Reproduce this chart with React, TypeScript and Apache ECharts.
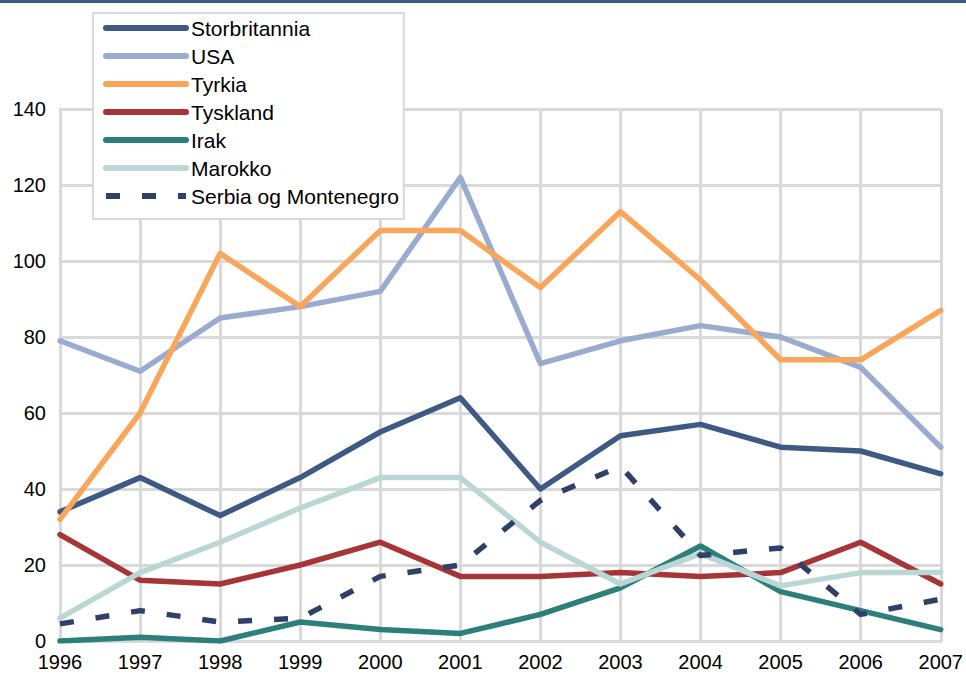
import React, { useEffect, useRef } from "react";
import * as echarts from "echarts";

const years = ["1996", "1997", "1998", "1999", "2000", "2001", "2002", "2003", "2004", "2005", "2006", "2007"];
const storbritannia = [34, 43, 33, 43, 55, 64, 40, 54, 57, 51, 50, 44];
const usa = [79, 71, 85, 88, 92, 122, 73, 79, 83, 80, 72, 51];
const tyrkia = [32, 60, 102, 88, 108, 108, 93, 113, 95, 74, 74, 87];
const tyskland = [28, 16, 15, 20, 26, 17, 17, 18, 17, 18, 26, 15];
const irak = [0, 1, 0, 5, 3, 2, 7, 14, 25, 13, 8, 3];
const marokko = [6, 18, 26, 35, 43, 43, 26, 15, 23, 14.5, 18, 18];
const serbia = [4.5, 8, 5, 6, 17, 20, 37, 46, 22.5, 24.5, 7, 11];

const seriesNames = ["Storbritannia", "USA", "Tyrkia", "Tyskland", "Irak", "Marokko", "Serbia og Montenegro"];
const seriesData = [storbritannia, usa, tyrkia, tyskland, irak, marokko, serbia];
const colors = ["#3e5a84", "#9aabd0", "#f9a65a", "#a73437", "#2c8079", "#bad7d6", "#2f4168"];

export default function App() {
  const ref = useRef<HTMLDivElement>(null);
  useEffect(() => {
    document.body.style.margin = "0";
    const chart = echarts.init(ref.current!, null, { renderer: "svg" });
    const gridColor = "#d9d9d9";
    const font = "'Liberation Sans', Arial, sans-serif";
    chart.setOption({
      animation: false,
      backgroundColor: "#ffffff",
      textStyle: { fontFamily: font },
      graphic: [
        { type: "rect", left: 0, top: 0, shape: { width: 966, height: 3 }, style: { fill: "#3f5a80" }, z: 100 },
      ],
      grid: { left: 60, right: 24, top: 109, bottom: 34, containLabel: false },
      legend: {
        orient: "vertical",
        left: 93,
        top: 13,
        padding: [4, 5, 12, 10],
        itemWidth: 80,
        itemHeight: 6,
        itemGap: 6,
        backgroundColor: "#ffffff",
        borderColor: gridColor,
        borderWidth: 2,
        itemStyle: { color: "transparent", borderColor: "transparent", borderWidth: 0 },
        lineStyle: { width: 6 },
        textStyle: { fontFamily: font, fontSize: 21, color: "#000", lineHeight: 22 },
        data: seriesNames,
      },
      xAxis: {
        type: "category",
        data: years,
        boundaryGap: false,
        axisLine: { show: true, lineStyle: { color: gridColor, width: 3 } },
        axisTick: { show: false },
        axisLabel: { interval: 0, fontSize: 20, color: "#000", margin: 11, fontFamily: font },
        splitLine: { show: true, interval: 0, lineStyle: { color: gridColor, width: 3 } },
      },
      yAxis: {
        type: "value",
        min: 0,
        max: 140,
        interval: 20,
        axisLine: { show: true, lineStyle: { color: gridColor, width: 3 } },
        axisTick: { show: false },
        axisLabel: { fontSize: 20, color: "#000", margin: 14, fontFamily: font },
        splitLine: { show: true, lineStyle: { color: gridColor, width: 3 } },
      },
      series: seriesNames.map((name, i) => ({
        name,
        type: "line",
        data: seriesData[i],
        symbol: "none",
        color: colors[i],
        lineStyle: {
          color: colors[i],
          width: 5.5,
          type: i === 6 ? [14, 22] : "solid",
          cap: i === 6 ? "butt" : "round",
          join: "round",
        },
      })),
    });
    return () => chart.dispose();
  }, []);
  return <div ref={ref} style={{ width: 966, height: 675 }} />;
}
